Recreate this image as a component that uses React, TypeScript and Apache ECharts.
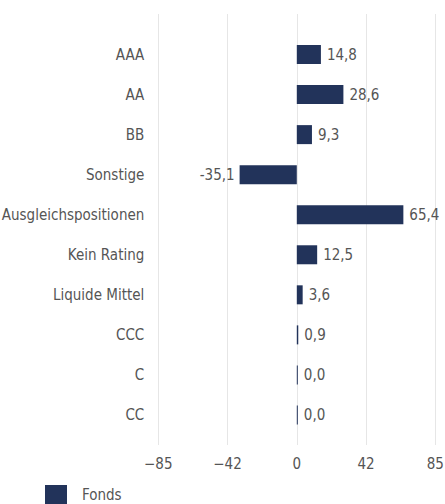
import React, { useEffect, useRef } from "react";
import * as echarts from "echarts";

const categories = [
  "AAA",
  "AA",
  "BB",
  "Sonstige",
  "Ausgleichspositionen",
  "Kein Rating",
  "Liquide Mittel",
  "CCC",
  "C",
  "CC",
];
const fondsValues = [14.8, 28.6, 9.3, -35.1, 65.4, 12.5, 3.6, 0.9, 0.0, 0.0];
const seriesName = "Fonds";
const axisMin = -85;
const axisMax = 85;
const axisInterval = 42.5;

const FONT = '"DejaVu Sans Condensed", "Roboto", sans-serif';
const FS = 15;
const TEXT_COLOR = "#555555";
const BAR_COLOR = "#22335a";

export default function App() {
  const ref = useRef<HTMLDivElement>(null);
  useEffect(() => {
    document.body.style.margin = "0";
    if (!ref.current) return;
    const chart = echarts.init(ref.current, null, { renderer: "svg" });
    const fmt = (v: number) => v.toFixed(1).replace(".", ",");
    chart.setOption({
      animation: false,
      textStyle: { fontFamily: FONT },
      legend: {
        data: [seriesName],
        left: 40,
        top: 480,
        icon: "rect",
        itemWidth: 22,
        itemHeight: 19,
        textStyle: { fontFamily: FONT, fontSize: FS, color: TEXT_COLOR, padding: [0, 0, 0, 10] },
      },
      grid: [
        { left: 158.3, right: 9.7, top: 34.5, bottom: 69, containLabel: false, outerBoundsMode: "none" },
        { left: 158.3, right: 9.7, top: 14, bottom: 59, containLabel: false, outerBoundsMode: "none" },
      ],
      xAxis: [
        {
          gridIndex: 0,
          type: "value",
          min: axisMin,
          max: axisMax,
          interval: axisInterval,
          show: false,
          splitLine: { show: false },
        },
        {
          gridIndex: 1,
          type: "value",
          min: axisMin,
          max: axisMax,
          interval: axisInterval,
          axisLine: { show: false },
          axisTick: { show: false },
          splitLine: { show: true, lineStyle: { color: "#e6e6e6", width: 1 } },
          axisLabel: {
            margin: 11,
            fontFamily: FONT,
            fontSize: FS,
            color: TEXT_COLOR,
            formatter: (v: number) => {
              const t = Math.trunc(v);
              return t < 0 ? "\u2212" + Math.abs(t) : String(t);
            },
          },
        },
      ],
      yAxis: [
        {
          gridIndex: 0,
          type: "category",
          data: categories,
          inverse: true,
          axisLine: { show: false },
          axisTick: { show: false },
          splitLine: { show: false },
          axisLabel: { margin: 14, fontFamily: FONT, fontSize: FS, color: TEXT_COLOR },
        },
        {
          gridIndex: 1,
          type: "value",
          min: 0,
          max: 1,
          show: false,
          splitLine: { show: false },
        },
      ],
      series: [
        {
          name: seriesName,
          type: "bar",
          xAxisIndex: 0,
          yAxisIndex: 0,
          barWidth: 19,
          barMinHeight: 1,
          itemStyle: { color: BAR_COLOR },
          label: {
            show: true,
            position: "right",
            distance: 6,
            fontFamily: FONT,
            fontSize: FS,
            color: TEXT_COLOR,
            formatter: (p: any) => fmt(p.value),
          },
          data: fondsValues.map((v) =>
            v < 0 ? { value: v, label: { position: "left", distance: 5 } } : { value: v }
          ),
        },
      ],
    });
    return () => chart.dispose();
  }, []);
  return <div ref={ref} style={{ width: 445, height: 504 }} />;
}
